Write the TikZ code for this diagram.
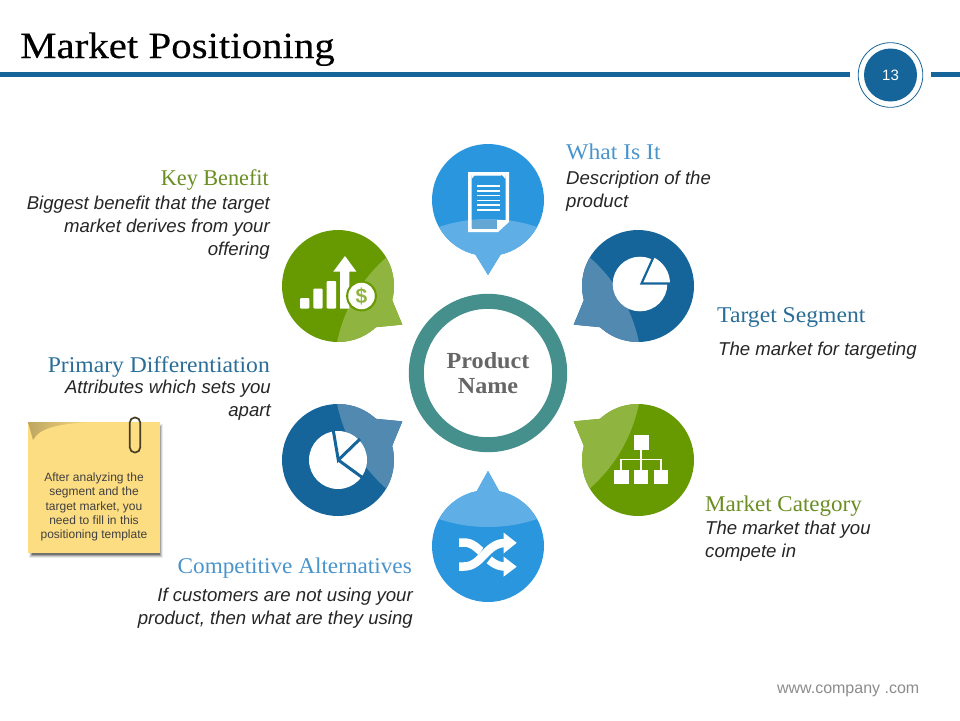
\documentclass[tikz,border=0pt]{standalone}
\usepackage{fontspec}
\setmainfont{Liberation Sans}
\newfontfamily\headfont[FakeStretch=1.05]{Liberation Serif}
\newfontfamily\titlefont[FakeStretch=1.105,FakeBold=0.25]{Liberation Serif}
\usetikzlibrary{calc}
\definecolor{cblue}{HTML}{2A96DE}
\definecolor{cbluel}{HTML}{5FAFE6}
\definecolor{cgreen}{HTML}{669A00}
\definecolor{cgreenl}{HTML}{8FB43F}
\definecolor{cnavy}{HTML}{16659A}
\definecolor{cnavyl}{HTML}{5289B0}
\definecolor{cteal}{HTML}{458F8C}
\definecolor{hgreen}{HTML}{6B8E23}
\definecolor{hblue}{HTML}{4A94CC}
\definecolor{hnavy}{HTML}{2A6E98}
\definecolor{cnote}{HTML}{FDDD82}
\tikzset{
  x=1pt,y=-1pt,
  head/.style={inner sep=0pt,font=\headfont\fontsize{22.5}{26}\selectfont},
  desc/.style={inner sep=0pt,font=\itshape\fontsize{18.6}{23}\selectfont,text=black!85},
}
% #1 centre, #2 tail angle (clockwise from east on screen), #3 half width of the tail's base, #4 dark, #5 light
\newcommand{\bubbleshape}[3]{%
  \path[fill=#3] (0,0) circle[radius=56];
  \path[fill=#3] ({#1-#2}:55.5) .. controls ({#1-0.42*#2}:64) .. (#1:75) .. controls ({#1+0.42*#2}:64) .. ({#1+#2}:55.5) -- cycle;
}
\newcommand{\bubble}[5]{%
  \begin{scope}[shift={#1}]\bubbleshape{#2}{#3}{#4}\end{scope}
  \begin{scope}
    \clip (488,373) circle[radius=154];
    \begin{scope}[shift={#1}]\bubbleshape{#2}{#3}{#5}\end{scope}
  \end{scope}
}
\begin{document}
\begin{tikzpicture}
\useasboundingbox (0,0) rectangle (960,720);
\fill[white] (0,0) rectangle (960,720);
% title
\node[anchor=base west,inner sep=0pt,font=\titlefont\fontsize{37}{44}\selectfont,text=black] (title) at (20,58) {Market Positioning};
\fill[cnavy] (0,71.5) rectangle (850,76.5);
\fill[cnavy] (931,71.5) rectangle (960,76.5);
\draw[cnavy,line width=0.8pt] (890.5,75) circle[radius=32.3];
\node[circle,fill=cnavy,minimum size=53pt,inner sep=0pt,text=white,font=\fontsize{15}{18}\selectfont] (page) at (890.5,75) {13};
% bubbles
\bubble{(488,200)}{90}{13.5}{cblue}{cbluel}
\bubble{(338,286)}{31}{17}{cgreen}{cgreenl}
\bubble{(638,286)}{149}{17}{cnavy}{cnavyl}
\bubble{(338,460)}{-31}{17}{cnavy}{cnavyl}
\bubble{(638,460)}{211}{17}{cgreen}{cgreenl}
\bubble{(488,546)}{-90}{12}{cblue}{cbluel}
% ring
\draw[cteal,line width=15pt] (488,373) circle[radius=71.7];
\node[align=center,inner sep=0pt,text=black!60,font=\headfont\bfseries\fontsize{23}{25}\selectfont] (product) at (488,373) {Product\\Name};
% document icon
\fill[white,even odd rule] (468,172) -- (509,172) -- (509,222) -- (498,232) -- (468,232) -- cycle
  (471.5,175) -- (505.5,175) -- (505.5,220) -- (497,220) -- (497,228.5) -- (471.5,228.5) -- cycle;
\fill[white] (473,172) -- (504,172) -- (501,175.5) -- (475,175.5) -- cycle;
\fill[white] (471.5,175) -- (475,175) -- (471.5,179) -- cycle;
\fill[white] (505.5,175) -- (502,175) -- (505.5,179) -- cycle;
\fill[cbluel!82!gray] (471.5,220) rectangle (497,228.5);
\foreach \yy in {186,191,195.5,200.5,205,210}
  \draw[white,line width=1.3pt] (477,\yy) -- (500,\yy);
% growth icon
\fill[white,rounded corners=1pt] (300,298) rectangle (309.3,308.5);
\fill[white,rounded corners=1pt] (313.3,288.5) rectangle (322.7,308.5);
\fill[white,rounded corners=1pt] (326.7,281) rectangle (336,308.5);
\fill[white] (340,308.5) -- (340,271.5) -- (333.3,271.5) -- (345,256) -- (356.3,271.5) -- (349.3,271.5) -- (349.3,308.5) -- cycle;
\fill[cgreen] (361.5,296) circle[radius=15.4];
\node[circle,fill=white,minimum size=26.5pt,inner sep=0pt,text=cgreenl,font=\bfseries\fontsize{21}{22}\selectfont] (dollar) at (361.5,296) {\$};
% right pie
\fill[white] (640,284) circle[radius=27.3];
\fill[white] (641,283.5) -- (670,283.5) arc[start angle=0,end angle=-65,radius=29] -- cycle;
\draw[cnavy,line width=2.2pt,line join=miter] (653.5,257) -- (641.5,283.5) -- (670,283.5);
% left pie
\fill[white] (338,460) circle[radius=29];
\draw[cnavy,line width=3pt] (333.3,430.5) -- (338.3,460) -- (360,439);
\draw[cnavy,line width=3pt] (338.3,460) -- (363,478);
% org chart icon
\fill[white] (633.5,435) rectangle (648.5,449.5);
\foreach \xx in {614,633.7,653.7} \fill[white] (\xx,469.5) rectangle ++(14.5,14.5);
\draw[white,line width=1.2pt] (641,449) -- (641,470);
\draw[white,line width=1.2pt] (621,470) -- (621,459.5) -- (661,459.5) -- (661,470);
% shuffle icon
\draw[white,line width=8.5pt] (459,542.5) -- (464,542.5) .. controls (481,542.5) and (486,566.5) .. (505,566.5);
\draw[cblue,line width=11.5pt] (470,566.5) .. controls (484,566.5) and (488,543) .. (500,543);
\draw[white,line width=8.5pt] (459,566.5) -- (464,566.5) .. controls (482,566.5) and (486,543) .. (505,543);
\fill[white] (503.5,532.5) -- (516.7,542.8) -- (503.5,553.5) -- cycle;
\fill[white] (503.5,556.5) -- (516.7,566.7) -- (503.5,576.7) -- cycle;
% sticky note
\foreach \oo/\op in {4/0.08,3/0.12,2/0.2,1/0.3}
  \fill[black,opacity=\op] ({33-\oo},{428-\oo}) rectangle ({159+\oo},{554+\oo});
\fill[cnote] (28,422) rectangle (160,553);
\shade[left color=black!25!cnote,right color=cnote] (28,422) -- (95,422) .. controls (60,423.5) and (40,427) .. (33,440) -- cycle;
\draw[black!72!cnote,line width=1.7pt,rounded corners=5pt] (129.8,417.5) rectangle (140.2,452.5);
\node[align=center,inner sep=0pt,text=black!75,font=\fontsize{12}{14.4}\selectfont] (note) at (94,507) {After analyzing the\\segment and the\\target market, you\\need to fill in this\\positioning template};
% labels
\node[head,text=hgreen,anchor=base east] (kb) at (269,185) {\scalebox{0.94}[1]{Key Benefit}};
\node[desc,anchor=north east,align=right] (kbd) at (270,195.5) {Biggest benefit that the target\\market derives from your\\offering};
\node[head,text=hblue,anchor=base west] (wi) at (566,159) {What Is It};
\node[desc,anchor=north west,align=left] (wid) at (566,170.5) {Description of the\\product};
\node[head,text=hnavy,anchor=base west] (ts) at (717,322) {Target Segment};
\node[desc,anchor=north west,align=left] (tsd) at (718,342) {The market for targeting};
\node[head,text=hnavy,anchor=base east] (pd) at (270,372) {Primary Differentiation};
\node[desc,anchor=north east,align=right] (pdd) at (271,380) {Attributes which sets you\\apart};
\node[head,text=hgreen,anchor=base west] (mc) at (705,511) {\scalebox{0.975}[1]{Market Category}};
\node[desc,anchor=north west,align=left] (mcd) at (705,521) {The market that you\\compete in};
\node[head,text=hblue,anchor=base east] (ca) at (412,573) {\scalebox{0.983}[1]{Competitive Alternatives}};
\node[desc,anchor=north east,align=right] (cad) at (413,588) {If customers are not using your\\product, then what are they using};
% footer
\node[anchor=base east,inner sep=0pt,text=black!45,font=\fontsize{16}{18}\selectfont] (web) at (919.5,693) {www.company .com};
\end{tikzpicture}
\end{document}
